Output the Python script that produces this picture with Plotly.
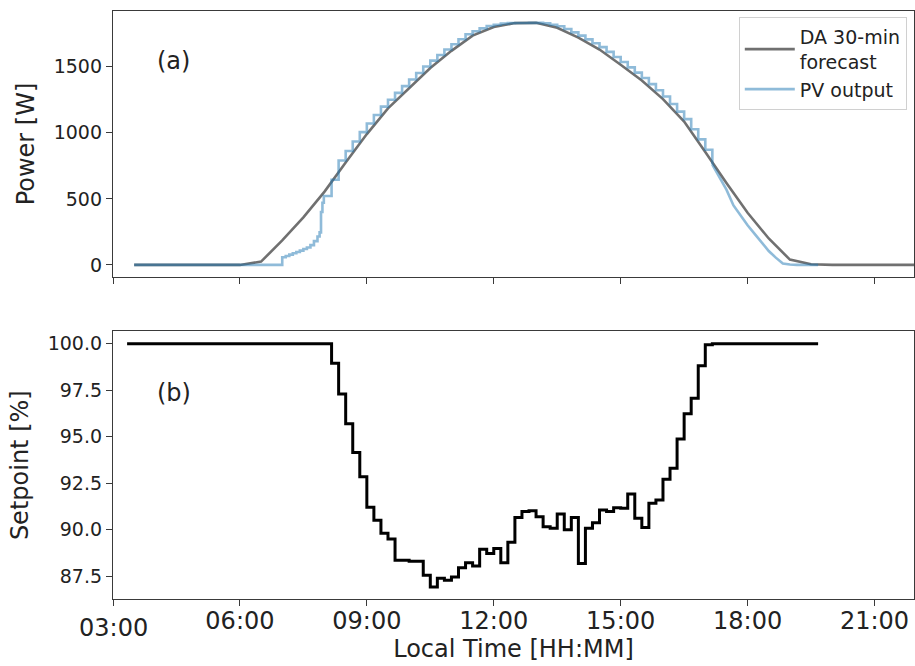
import plotly.graph_objects as go

DAY = "2020-01-01 "

# DA 30-min forecast [W]
fc_times = ["03:30", "04:00", "04:30", "05:00", "05:30", "06:00", "06:30", "07:00",
            "07:30", "08:00", "08:30", "09:00", "09:30", "10:00", "10:30", "11:00",
            "11:30", "12:00", "12:30", "13:00", "13:30", "14:00", "14:30", "15:00",
            "15:30", "16:00", "16:30", "17:00", "17:30", "18:00", "18:30", "19:00",
            "19:30", "20:00", "20:30", "21:00", "21:30", "22:00"]
fc_values = [0, 0, 0, 0, 0, 0, 25, 185,
             360, 555, 775, 990, 1185, 1340, 1490, 1620,
             1735, 1800, 1830, 1832, 1795, 1720, 1630, 1515,
             1395, 1255, 1085, 855, 620, 395, 200, 40,
             5, 0, 0, 0, 0, 0]

# PV output [W] - stepped part (morning ramp + 10-min steps)
pv_step_times = ["03:30", "07:00", "07:05", "07:10", "07:15", "07:20", "07:25", "07:30",
                 "07:35", "07:40", "07:45", "07:50", "07:53", "07:55", "07:57", "07:59",
                 "08:10", "08:20", "08:30", "08:40", "08:50", "09:00", "09:10", "09:20",
                 "09:30", "09:40", "09:50", "10:00", "10:10", "10:20", "10:30", "10:40",
                 "10:50", "11:00", "11:10", "11:20", "11:30", "11:40", "11:50", "12:00",
                 "12:10", "12:20", "12:30", "12:40", "12:50", "13:00", "13:10", "13:20",
                 "13:30", "13:40", "13:50", "14:00", "14:10", "14:20", "14:30", "14:40",
                 "14:50", "15:00", "15:10", "15:20", "15:30", "15:40", "15:50", "16:00",
                 "16:10", "16:20", "16:30", "16:40", "16:50", "17:00", "17:10"]
pv_step_values = [0, 58, 68, 78, 88, 98, 108, 120,
                  132, 150, 180, 215, 246, 400, 470, 522,
                  645, 790, 862, 934, 1005, 1070, 1135, 1198,
                  1250, 1302, 1353, 1403, 1452, 1502, 1546, 1589,
                  1630, 1670, 1708, 1745, 1768, 1790, 1808, 1818,
                  1826, 1830, 1831, 1831, 1832, 1832, 1828, 1818,
                  1806, 1785, 1760, 1735, 1707, 1677, 1648, 1612,
                  1573, 1535, 1495, 1455, 1415, 1368, 1322, 1275,
                  1218, 1160, 1103, 1027, 950, 872, 760]

# PV output [W] - evening tail
pv_tail_times = ["17:10", "17:20", "17:30", "17:40", "17:50", "18:00", "18:10", "18:20",
                 "18:30", "18:40", "18:50", "19:00", "19:10", "19:40"]
pv_tail_values = [760, 665, 570, 450, 370, 300, 235, 170,
                  105, 55, 10, 3, 0, 0]

# Setpoint [%]
sp_times = ["03:20", "08:10", "08:20", "08:30", "08:40", "08:50", "09:00", "09:10",
            "09:20", "09:30", "09:40", "09:50", "10:00", "10:10", "10:20", "10:30",
            "10:40", "10:50", "11:00", "11:10", "11:20", "11:30", "11:40", "11:50",
            "12:00", "12:10", "12:20", "12:30", "12:40", "12:50", "13:00", "13:10",
            "13:20", "13:30", "13:40", "13:50", "14:00", "14:10", "14:20", "14:30",
            "14:40", "14:50", "15:00", "15:10", "15:20", "15:30", "15:40", "15:50",
            "16:00", "16:10", "16:20", "16:30", "16:40", "16:50", "17:00", "17:10",
            "19:40"]
sp_values = [100.0, 98.95, 97.3, 95.7, 94.15, 92.85, 91.2, 90.5,
             89.8, 89.5, 88.35, 88.35, 88.3, 88.3, 87.55, 86.92,
             87.38, 87.28, 87.46, 87.95, 88.22, 88.04, 88.94, 88.72,
             88.99, 88.22, 89.32, 90.66, 90.97, 91.02, 90.70, 90.16,
             90.07, 90.84, 90.0, 90.66, 88.18, 90.07, 90.37, 91.06,
             90.97, 91.18, 91.15, 91.92, 90.61, 90.12, 91.42, 91.59,
             92.71, 93.30, 94.87, 96.23, 97.07, 98.81, 99.95, 100.0,
             100.0]

power_ticks = [0, 500, 1000, 1500]
setpoint_ticks = [87.5, 90.0, 92.5, 95.0, 97.5, 100.0]
time_ticks = ["03:00", "06:00", "09:00", "12:00", "15:00", "18:00", "21:00"]


def ts(lst):
    return [DAY + t for t in lst]


FC_COLOR = "rgba(0,0,0,0.56)"
PV_COLOR = "rgba(31,119,180,0.5)"
AX = "#3a3a3a"
FONT = "DejaVu Sans"

fig = go.Figure()
fig.add_trace(go.Scatter(x=ts(fc_times), y=fc_values, mode="lines",
                         name="DA 30-min<br>forecast",
                         line=dict(color=FC_COLOR, width=2.6),
                         xaxis="x", yaxis="y"))
fig.add_trace(go.Scatter(x=ts(pv_step_times), y=pv_step_values, mode="lines",
                         name="PV output", legendgroup="pv",
                         line=dict(color=PV_COLOR, width=2.6, shape="hv"),
                         xaxis="x", yaxis="y"))
fig.add_trace(go.Scatter(x=ts(pv_tail_times), y=pv_tail_values, mode="lines",
                         name="PV output", legendgroup="pv", showlegend=False,
                         line=dict(color=PV_COLOR, width=2.6),
                         xaxis="x", yaxis="y"))
fig.add_trace(go.Scatter(x=ts(sp_times), y=sp_values, mode="lines",
                         name="Setpoint", showlegend=False,
                         line=dict(color="black", width=3, shape="hv"),
                         xaxis="x2", yaxis="y2"))

xrange = [DAY + "03:00", DAY + "21:56"]
common_axis = dict(showline=True, mirror=True, linecolor=AX, linewidth=1.3,
                   ticks="outside", ticklen=6, tickwidth=1.2, tickcolor=AX,
                   showgrid=False, zeroline=False, automargin=False)

# first label (03:00) sits a little lower in the reference -> drawn as annotation
tick_text = [""] + time_ticks[1:]

fig.update_layout(
    width=915, height=666,
    margin=dict(l=113, r=1, t=11, b=67),
    paper_bgcolor="white", plot_bgcolor="white",
    font=dict(family=FONT, size=19, color="#222"),
    xaxis=dict(domain=[0, 1], anchor="y", range=xrange, type="date",
               tickvals=ts(time_ticks), showticklabels=False, matches="x2",
               **common_axis),
    yaxis=dict(domain=[0.5476, 1], anchor="x", range=[-91.5, 1921.5],
               tickvals=power_ticks, tickfont=dict(size=19),
               title=dict(text="Power [W]", font=dict(size=24), standoff=12),
               **common_axis),
    xaxis2=dict(domain=[0, 1], anchor="y2", range=xrange, type="date",
                tickvals=ts(time_ticks), ticktext=tick_text,
                tickfont=dict(size=24), ticklabelstandoff=-6,
                title=dict(text="Local Time [HH:MM]", font=dict(size=24), standoff=0),
                **common_axis),
    yaxis2=dict(domain=[0, 0.455], anchor="x2", range=[86.27, 100.66],
                tickvals=setpoint_ticks, tickformat=".1f", tickfont=dict(size=19),
                title=dict(text="Setpoint [%]", font=dict(size=24), standoff=12),
                **common_axis),
    legend=dict(x=0.991, y=0.99, xanchor="right", yanchor="top",
                bgcolor="white", bordercolor="#d0d0d0", borderwidth=1,
                font=dict(size=19, family=FONT), tracegroupgap=0, itemwidth=50),
    annotations=[
        dict(text="(a)", xref="x domain", yref="y domain", x=0.053, y=0.812,
             xanchor="left", yanchor="middle", showarrow=False, font=dict(size=24)),
        dict(text="(b)", xref="x2 domain", yref="y2 domain", x=0.053, y=0.77,
             xanchor="left", yanchor="middle", showarrow=False, font=dict(size=24)),
        dict(text=time_ticks[0], xref="x2", yref="paper", x=DAY + time_ticks[0],
             y=-0.049, xanchor="center", yanchor="middle", showarrow=False,
             font=dict(size=24)),
    ],
)

fig.write_html("out.html", config={"displayModeBar": False},
               post_script="document.body.style.margin='0px';")
